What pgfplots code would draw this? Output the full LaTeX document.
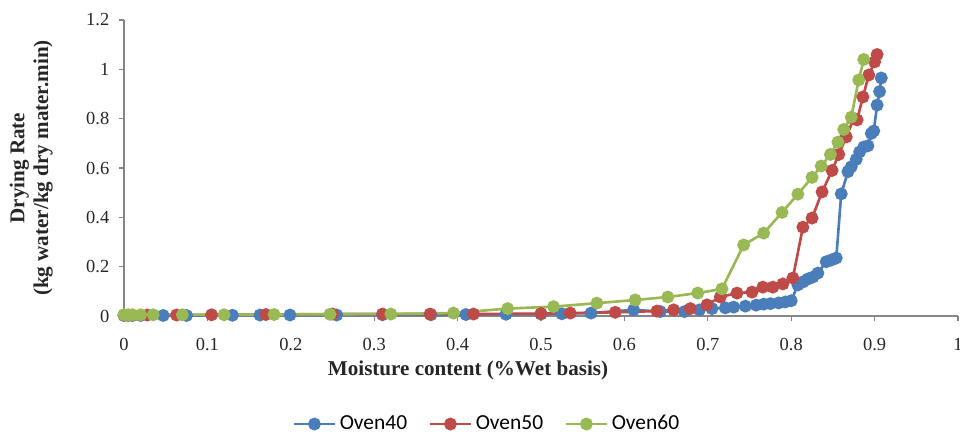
\documentclass[border=0pt]{standalone}
\usepackage{fontspec}
\setmainfont{Liberation Serif}
\newfontfamily\legfont{Carlito}
\usepackage{pgfplots}
\pgfplotsset{compat=1.18}
\definecolor{cblue}{HTML}{4A7EBB}
\definecolor{cred}{HTML}{BE4B48}
\definecolor{cgreen}{HTML}{98B954}
\definecolor{axgray}{HTML}{868686}
\begin{document}
\begin{tikzpicture}
\useasboundingbox (-2.48cm,-2.36cm) rectangle (16.72cm,6.32cm);
\begin{axis}[
  at={(0,0)}, anchor=south west,
  scale only axis, width=16.68cm, height=5.92cm,
  xmin=0, xmax=1, ymin=0, ymax=1.2,
  axis lines=left, axis line style={-, draw=axgray, line width=0.6pt},
  tick style={draw=axgray, line width=0.6pt},
  tick align=outside, major tick length=0.1cm,
  xtick={0,0.1,...,1.01}, ytick={0,0.2,...,1.21},
  xticklabels={0,0.1,0.2,0.3,0.4,0.5,0.6,0.7,0.8,0.9,1},
  yticklabels={0,0.2,0.4,0.6,0.8,1,1.2},
  /pgf/number format/assume math mode=true,
  ticklabel style={font=\fontsize{10.5}{12}\selectfont, text=black!85},
  xticklabel style={yshift=-0.22cm},
  yticklabel style={xshift=-0.07cm},
  xlabel={Moisture content (\%Wet basis)},
  ylabel={Drying Rate\\(kg water/kg dry mater.min)},
  label style={font=\fontsize{12}{13.5}\selectfont\bfseries, text=black!85},
  xlabel style={at={(axis description cs:0.4125,-0.185)}, anchor=center},
  ylabel style={at={(axis description cs:-0.078,0.5)}, anchor=south, align=center},
  legend style={at={(axis description cs:0.436,-0.365)}, anchor=center, draw=none,
    legend columns=3, font=\legfont\fontsize{12.2}{14}\selectfont,
    /tikz/every even column/.append style={column sep=0.36cm}},
  legend image code/.code={
    \draw[#1, mark=none] (0cm,0cm) -- (0.82cm,0cm);
    \draw[#1, only marks] plot coordinates {(0.41cm,0cm)};
  },
  every axis plot/.append style={line width=1.5pt, mark=*, mark size=2.9pt},
  clip=false,
]
\addplot[color=cblue, mark options={fill=cblue, draw=cblue}] coordinates {
(0,0.002)(0.005,0.002)(0.01,0.002)(0.02,0.002)(0.047,0.002)(0.075,0.002)(0.13,0.003)
(0.163,0.004)(0.199,0.004)(0.255,0.004)(0.31,0.005)(0.368,0.005)(0.41,0.006)(0.458,0.007)
(0.5,0.008)(0.525,0.009)(0.56,0.012)(0.611,0.025)(0.643,0.018)(0.672,0.018)(0.69,0.025)
(0.705,0.03)(0.721,0.033)(0.731,0.036)(0.745,0.04)(0.758,0.044)(0.767,0.048)(0.775,0.05)
(0.785,0.053)(0.793,0.057)(0.80,0.062)(0.808,0.126)(0.814,0.138)(0.82,0.15)(0.826,0.158)
(0.832,0.174)(0.842,0.22)(0.848,0.227)(0.854,0.235)(0.86,0.495)(0.868,0.585)(0.872,0.605)
(0.878,0.635)(0.882,0.665)(0.887,0.685)(0.892,0.69)(0.896,0.74)(0.899,0.75)(0.903,0.855)
(0.906,0.91)(0.908,0.965)};
\addlegendentry{Oven40}
\addplot[color=cred, mark options={fill=cred, draw=cred}] coordinates {
(0,0.003)(0.01,0.003)(0.028,0.004)(0.063,0.004)(0.105,0.005)(0.17,0.006)(0.25,0.008)
(0.31,0.008)(0.367,0.008)(0.419,0.008)(0.5,0.01)(0.535,0.012)(0.589,0.015)(0.639,0.02)
(0.659,0.025)(0.679,0.03)(0.699,0.045)(0.715,0.077)(0.735,0.093)(0.753,0.097)(0.766,0.117)
(0.778,0.117)(0.79,0.13)(0.802,0.154)(0.814,0.36)(0.825,0.397)(0.837,0.503)(0.849,0.59)
(0.857,0.655)(0.866,0.726)(0.875,0.8)(0.879,0.795)(0.886,0.888)(0.893,0.977)(0.90,1.03)
(0.903,1.06)};
\addlegendentry{Oven50}
\addplot[color=cgreen, mark options={fill=cgreen, draw=cgreen}] coordinates {
(0,0.005)(0.005,0.005)(0.01,0.005)(0.02,0.005)(0.035,0.005)(0.07,0.005)(0.12,0.005)
(0.18,0.006)(0.247,0.007)(0.32,0.008)(0.395,0.012)(0.46,0.03)(0.515,0.038)(0.567,0.052)
(0.613,0.065)(0.652,0.077)(0.688,0.093)(0.717,0.11)(0.743,0.288)(0.767,0.336)(0.789,0.42)
(0.808,0.494)(0.825,0.562)(0.836,0.608)(0.847,0.655)(0.856,0.705)(0.863,0.756)(0.872,0.806)
(0.881,0.957)(0.887,1.04)};
\addlegendentry{Oven60}
\end{axis}
\end{tikzpicture}
\end{document}
